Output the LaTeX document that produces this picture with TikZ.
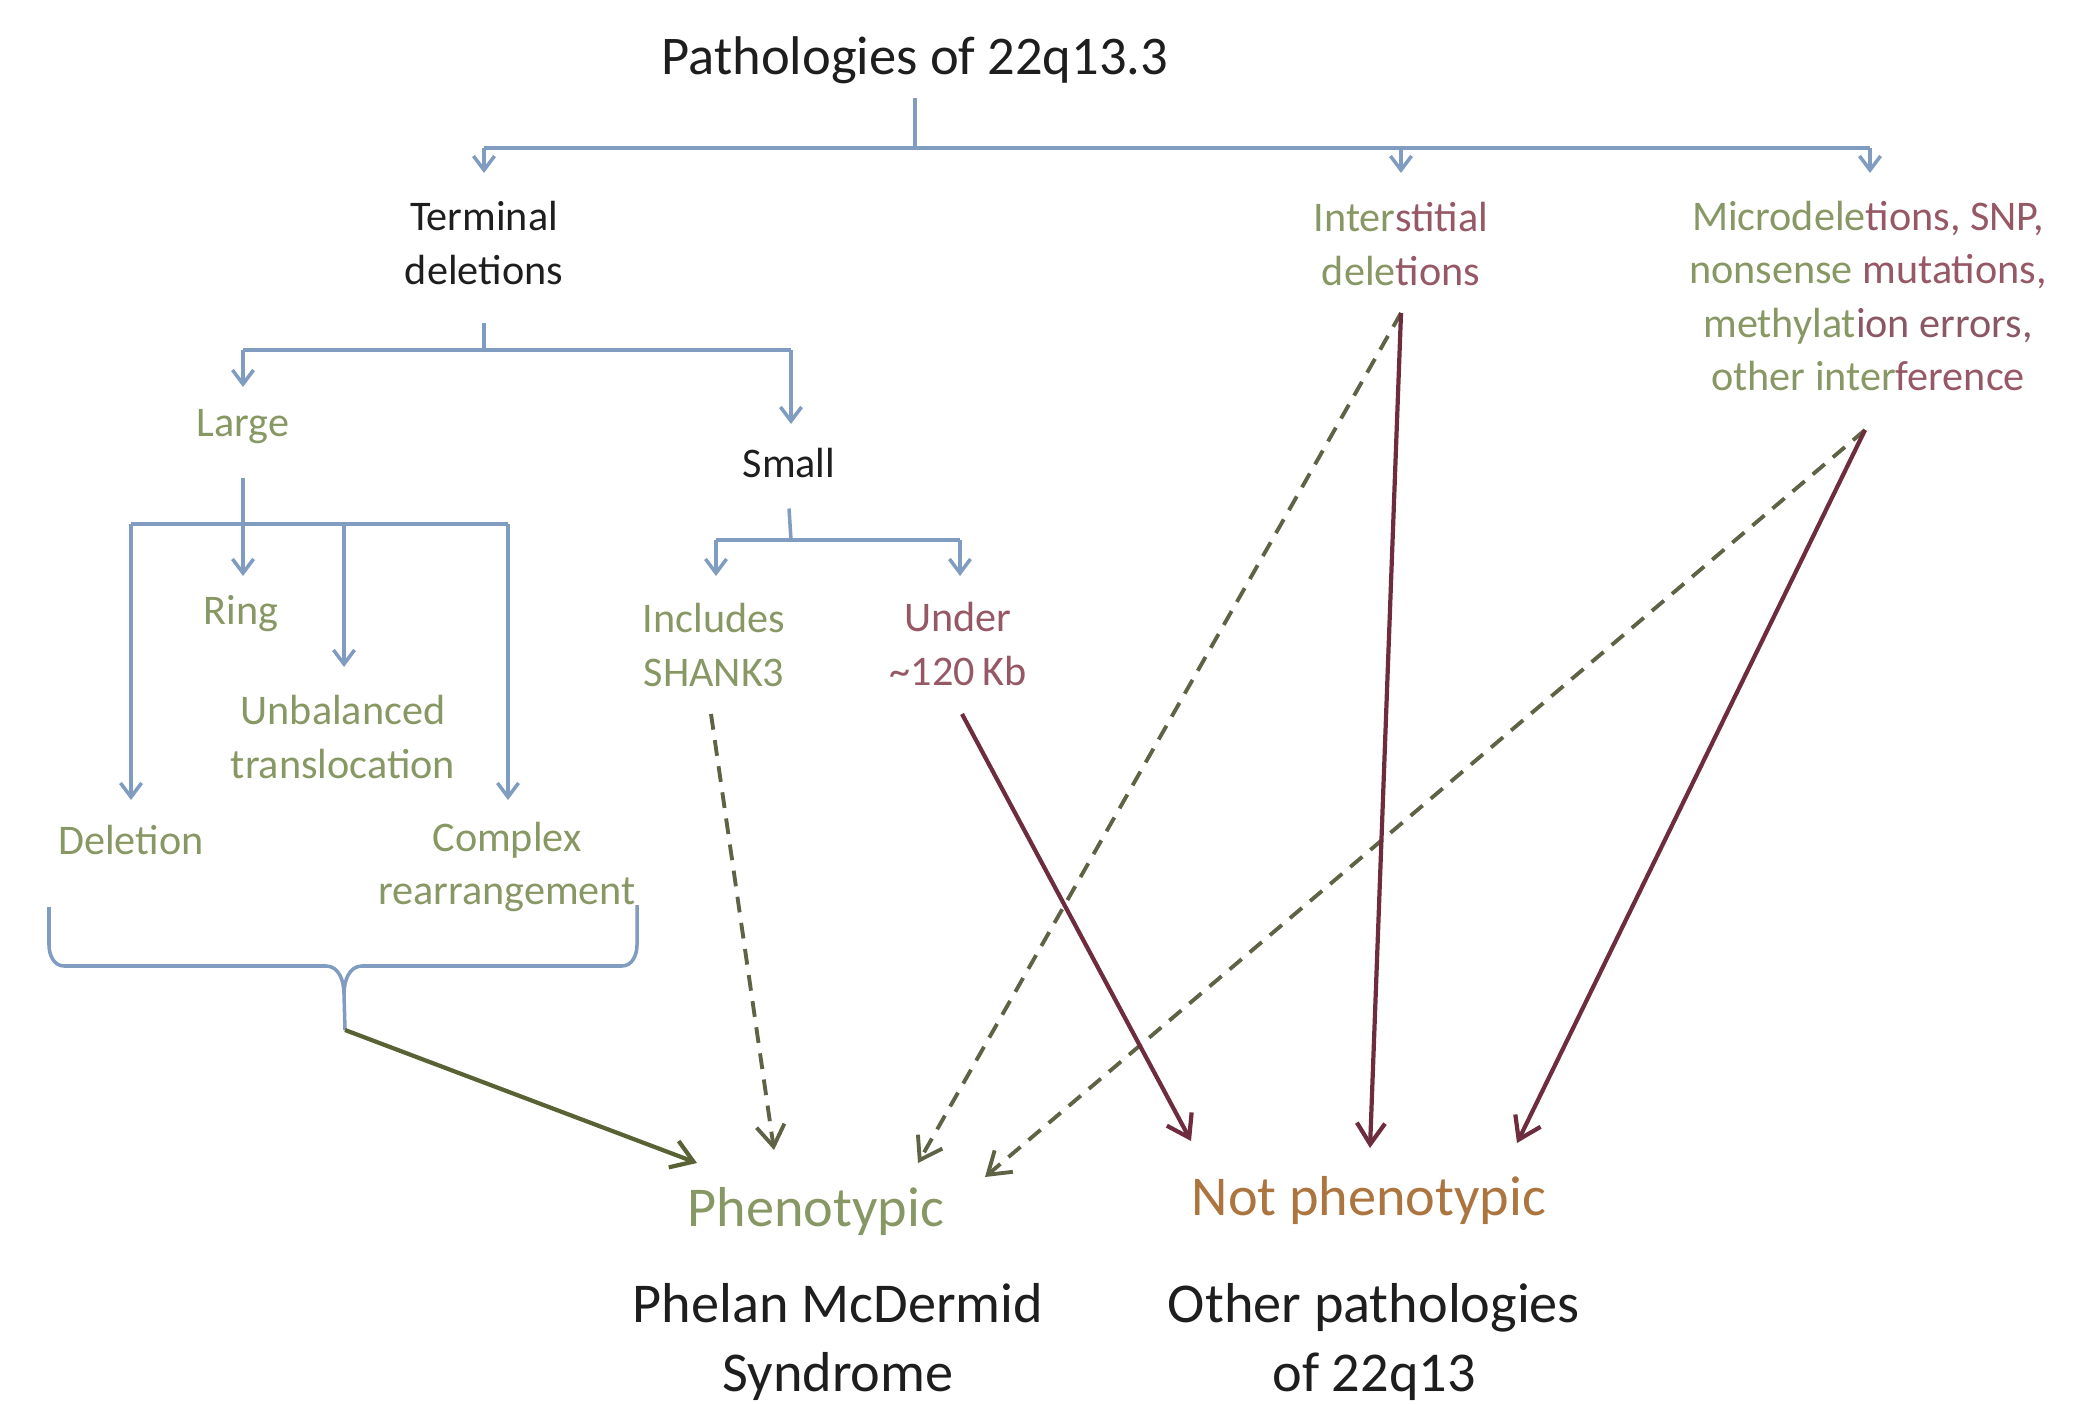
\documentclass[tikz,border=0pt]{standalone}
\usepackage{fontspec}
\setmainfont{Carlito}
\usetikzlibrary{arrows.meta}
\definecolor{blueln}{RGB}{128,156,192}
\definecolor{grn}{RGB}{136,152,100}
\definecolor{mar}{RGB}{150,88,100}
\definecolor{darkmar}{RGB}{110,45,62}
\definecolor{olive}{RGB}{88,98,52}
\definecolor{dashc}{RGB}{96,98,70}
\definecolor{orng}{RGB}{172,116,62}
\definecolor{blk}{RGB}{30,30,30}
\tikzset{
  txt/.style={align=center, inner sep=0pt, font=\fontsize{12}{15.2}\selectfont},
  big/.style={align=center, inner sep=0pt, font=\fontsize{16}{19.7}\selectfont},
  tree/.style={draw=blueln, line width=1pt},
  treearr/.style={tree, -{Straight Barb[length=4pt,width=6pt]}},
  solidarr/.style={draw=darkmar, line width=1.2pt, -{Straight Barb[length=6pt,width=8pt]}},
  olivearr/.style={draw=olive, line width=1.2pt, -{Straight Barb[length=6pt,width=8pt]}},
  dasharr/.style={draw=dashc, line width=1.1pt, dash pattern=on 4.5pt off 3pt, -{Straight Barb[length=6pt,width=8pt]}},
}
\begin{document}
\begin{tikzpicture}[x=0.01cm,y=-0.01cm]
\useasboundingbox (0,0) rectangle (2092,1404);
% nodes
\node[txt, text=blk, font=\fontsize{15.5}{19}\selectfont] (title) at (915,60) {Pathologies of 22q13.3};
\node[txt, text=blk] (term) at (484,243) {Terminal\\deletions};
\node[txt] (inter) at (1401,244) {\textcolor{grn}{Inter}\textcolor{mar}{stitial}\\\textcolor{grn}{dele}\textcolor{mar}{tions}};
\node[txt] (micro) at (1868,296) {\textcolor{grn}{Microdele}\textcolor{mar}{tions, SNP,}\\\textcolor{grn}{nonsense }\textcolor{mar}{mutations,}\\\textcolor{grn}{methylat}\textcolor{darkmar!80}{ion errors,}\\\textcolor{grn}{other inter}\textcolor{mar}{ference}};
\node[txt, text=grn] (large) at (243,427) {Large};
\node[txt, text=blk] (small) at (789,463) {Small};
\node[txt, text=grn] (ring) at (241,614) {Ring};
\node[txt, text=grn] (unbal) at (343,737) {Unbalanced\\translocation};
\node[txt, text=grn] (del) at (131,840) {Deletion};
\node[txt, text=grn] (complex) at (507,867) {Complex\\rearrangement};
\node[txt, text=grn] (incl) at (714,645) {Includes\\SHANK3};
\node[txt, text=mar] (under) at (958,644) {Under\\\textasciitilde120\,Kb};
\node[big, text=grn] (phen) at (816,1211) {Phenotypic};
\node[big, text=orng] (notphen) at (1369,1200) {Not phenotypic};
\node[big, text=blk] (pmd) at (838,1342) {Phelan McDermid\\Syndrome};
\node[big, text=blk] (other) at (1374,1342) {Other pathologies\\of 22q13};
% junction coordinates
\coordinate (j0) at (915,148);
\coordinate (j1) at (484,350);
\coordinate (j2) at (243,524);
\coordinate (j3) at (791,540);
\coordinate (termIn) at (484,173);
\coordinate (interIn) at (1401,173);
\coordinate (microIn) at (1870,173);
\coordinate (largeIn) at (243,387);
\coordinate (smallIn) at (791,424);
\coordinate (ringIn) at (243,576);
\coordinate (unbalIn) at (344,667);
\coordinate (delIn) at (131,800);
\coordinate (complexIn) at (508,800);
\coordinate (inclIn) at (716,576);
\coordinate (underIn) at (960,576);
% top tree
\draw[tree] (title.south) ++(0,14) -- (j0);
\draw[tree] (j0 -| termIn) -- (j0 -| microIn);
\draw[treearr] (j0 -| termIn) -- (termIn);
\draw[treearr] (j0 -| interIn) -- (interIn);
\draw[treearr] (j0 -| microIn) -- (microIn);
% terminal deletions
\draw[tree] (term.south) ++(0,38) -- (j1);
\draw[tree] (j1 -| largeIn) -- (j1 -| smallIn);
\draw[treearr] (j1 -| largeIn) -- (largeIn);
\draw[treearr] (j1 -| smallIn) -- (smallIn);
% large
\draw[treearr] (large.south) ++(0,33) -- (ringIn);
\draw[tree] (j2 -| delIn) -- (j2 -| complexIn);
\draw[treearr] (j2 -| delIn) -- (delIn);
\draw[treearr] (j2 -| unbalIn) -- (unbalIn);
\draw[treearr] (j2 -| complexIn) -- (complexIn);
% small
\draw[tree] (small.south) ++(0,30) -- (j3);
\draw[tree] (j3 -| inclIn) -- (j3 -| underIn);
\draw[treearr] (j3 -| inclIn) -- (inclIn);
\draw[treearr] (j3 -| underIn) -- (underIn);
% brace
\coordinate (braceTip) at (345,1030);
\coordinate (braceMid) at (344,994);
\draw[tree] (49,907) -- (49,945) to[out=-90,in=180] (64,966) -- (326,966)
  to[out=0,in=90] (braceMid) -- (braceTip);
\draw[tree] (braceMid) to[out=90,in=180] (362,966) -- (622,966) to[out=0,in=-90] (637,945) -- (637,905);
% outcome arrows
\coordinate (phenA) at (697,1163);
\coordinate (phenB) at (774,1150);
\coordinate (phenC) at (918,1163);
\coordinate (phenD) at (985,1177);
\coordinate (notA) at (1191,1141);
\coordinate (notB) at (1370,1148);
\coordinate (notC) at (1517,1143);
\coordinate (interOut) at (1401,313);
\coordinate (microOut) at (1865,430);
\coordinate (inclOut) at (711,714);
\coordinate (underOut) at (962,714);
\draw[olivearr] (braceTip) -- (phenA);
\draw[dasharr] (inclOut) -- (phenB);
\draw[dasharr] (interOut) -- (phenC);
\draw[dasharr] (microOut) -- (phenD);
\draw[solidarr] (underOut) -- (notA);
\draw[solidarr] (interOut) -- (notB);
\draw[solidarr] (microOut) -- (notC);
\end{tikzpicture}
\end{document}
